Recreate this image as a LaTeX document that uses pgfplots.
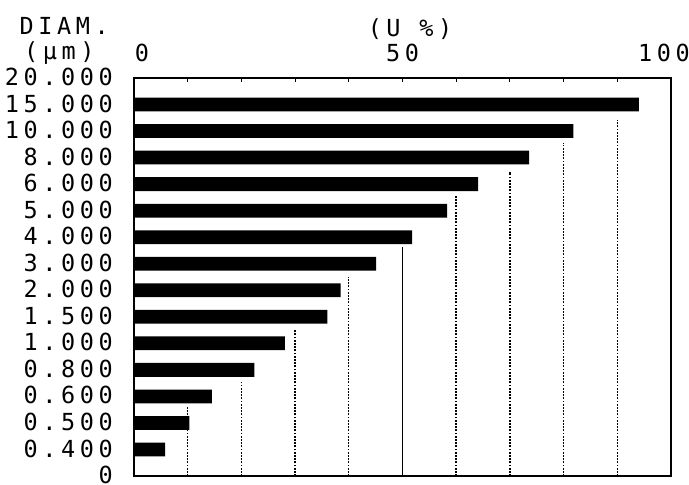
\documentclass[border=0pt]{standalone}
\usepackage{pgfplots}
\pgfplotsset{compat=1.18}
\usepackage{fontspec}
\newfontfamily\dm[LetterSpace=19.5]{DejaVu Sans Mono}
\newcommand\dmf{\dm\fontsize{23.5}{24}\selectfont}
\pgfplotstableread{
k value
14 94.0
13 81.8
12 73.6
11 64.1
10 58.3
9 51.8
8 45.1
7 38.5
6 36.0
5 28.1
4 22.4
3 14.5
2 10.3
1 5.8
}\bars
\pgfplotstableread{
x top
10 2.60
20 3.54
30 5.50
40 7.50
60 10.60
70 11.46
80 12.55
90 13.40
}\dotgrid
\pgfplotstableread{
x top
50 8.63
}\solidgrid
\begin{document}
\begin{tikzpicture}
\useasboundingbox (-134pt,-9pt) rectangle (555pt,476pt);
\begin{axis}[
  at={(0pt,0pt)}, anchor=south west,
  scale only axis, width=537pt, height=398pt,
  xmin=0, xmax=100, ymin=0, ymax=15,
  axis line style={line width=1.6pt},
  xtick={0,10,...,100},
  xticklabels={\makebox[0pt][l]{\hspace{1pt}0},,,,,50,,,,,\makebox[0pt]{\hspace{-14pt}100}},
  xtick pos=right, xticklabel pos=right,
  tick align=inside,
  major tick length=4pt,
  xtick style={line width=1pt, black},
  ytick={0,...,15},
  yticklabels={0,0.400,0.500,0.600,0.800,1.000,1.500,2.000,3.000,4.000,5.000,6.000,8.000,10.000,15.000,20.000},
  ytick style={draw=none},
  xticklabel style={font=\dmf, anchor=base, inner sep=0pt, yshift=16pt},
  yticklabel style={font=\dmf, anchor=east, inner sep=0pt, xshift=-21pt, yshift=1pt},
]
\addplot[ycomb, black, line width=1.4pt, dash pattern=on 1.8pt off 1.4pt, mark=none] table[x=x, y=top] {\dotgrid};
\addplot[ycomb, black, line width=1.3pt, mark=none] table[x=x, y=top] {\solidgrid};
\addplot[xbar, bar shift=0pt, bar width=0.52, fill=black, draw=none] table[x=value, y=k] {\bars};
\end{axis}
\node[font=\dmf, anchor=base east, inner sep=0pt] at (-25pt,441pt) {DIAM.};
\node[font=\dmf, anchor=base west, inner sep=0pt] at (-110pt,416pt) {(µm)};
\node[font=\dmf, anchor=base, inner sep=0pt] at (276pt,439pt) {(U \%)};
\end{tikzpicture}
\end{document}
